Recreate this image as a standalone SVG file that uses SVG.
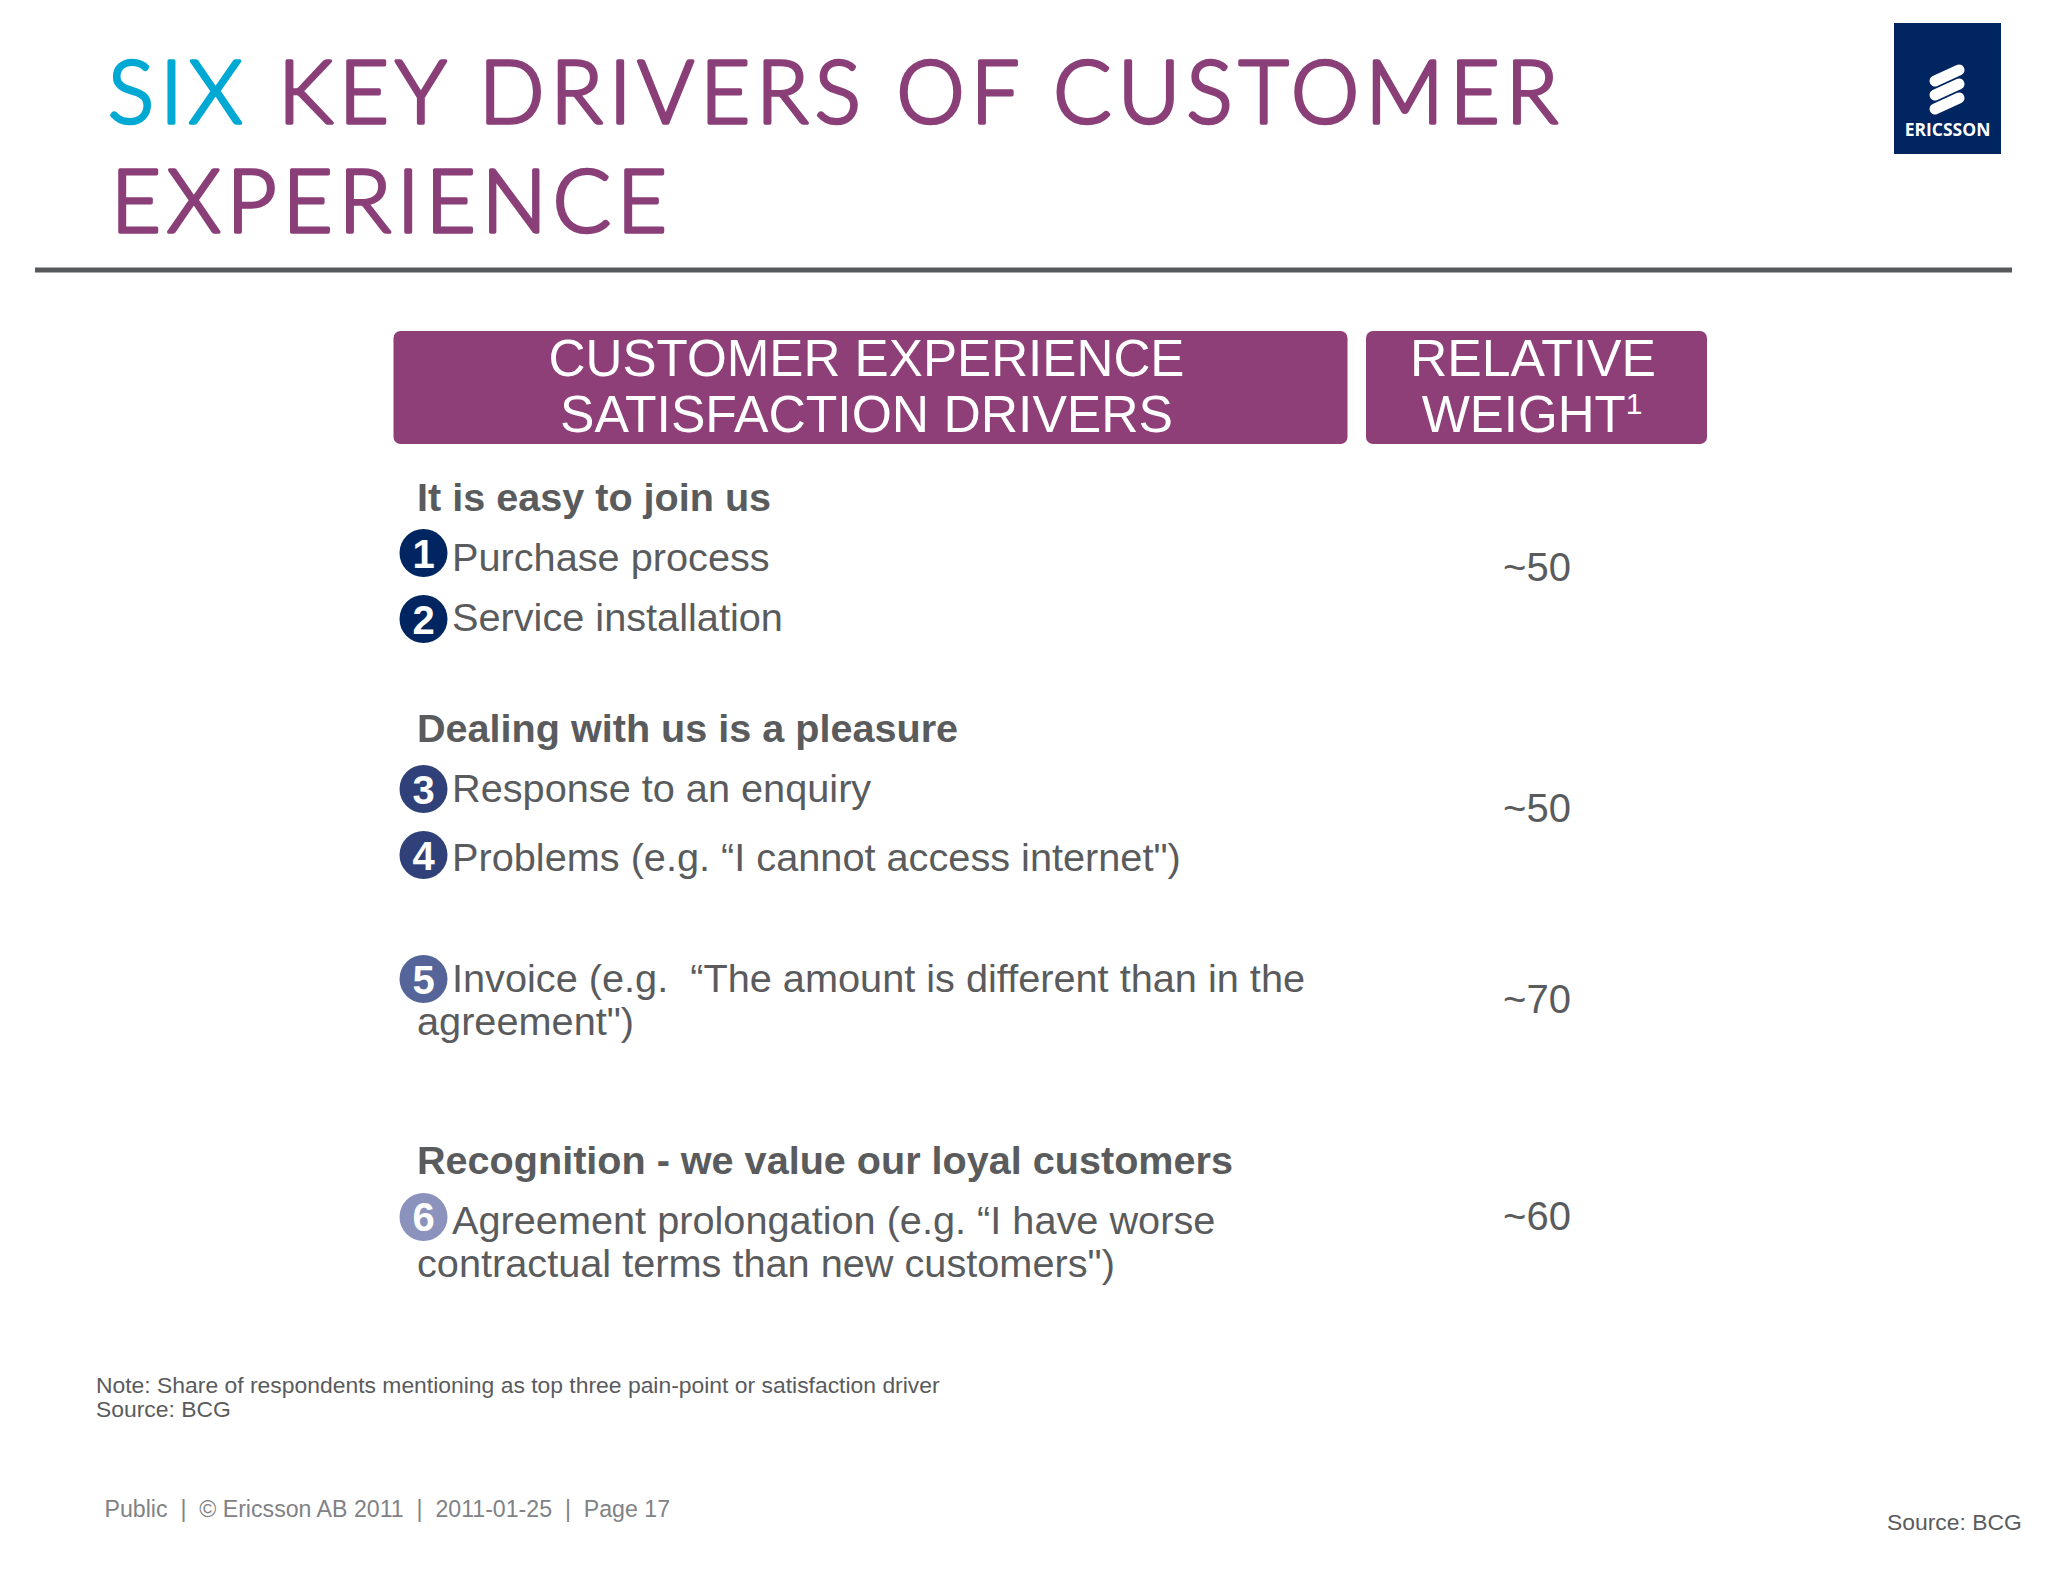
<svg xmlns="http://www.w3.org/2000/svg" width="2048" height="1582" viewBox="0 0 2048 1582">
<style>
text{font-family:"Liberation Sans",Arial,sans-serif;fill:#5a5b5d;white-space:pre}
.t{font-family:"Lato","Liberation Sans",sans-serif;font-weight:300;font-size:86px;fill:#8a3f78;stroke:#8a3f78;stroke-width:3.500px;stroke-linejoin:round}
.h{font-size:51px;fill:#fff;text-anchor:middle}
.b{font-size:39.600px;font-weight:700}
.r{font-size:39.700px}
.w{font-size:40px;text-anchor:middle}
.n{font-size:40px;font-weight:700;fill:#fff;text-anchor:middle}
.s{font-size:22.900px}
.f{font-size:23.150px;fill:#808285}
</style>
<rect width="2048" height="1582" fill="#fff"/>
<g id="title">
<text class="t" x="108" y="123" textLength="1450" lengthAdjust="spacing"><tspan style="fill:#00a9d4;stroke:#00a9d4">SIX</tspan> KEY DRIVERS OF CUSTOMER</text>
<text class="t" x="111" y="232" textLength="556" lengthAdjust="spacing">EXPERIENCE</text>
</g>
<g id="logo">
<rect x="1894" y="23" width="107" height="131" fill="#002561"/>
<g stroke="#fff" stroke-width="11" stroke-linecap="round">
<line x1="1935" y1="81" x2="1959" y2="70"/>
<line x1="1935" y1="95" x2="1959" y2="84"/>
<line x1="1935" y1="109" x2="1959" y2="98"/>
</g>
<text x="1947.500" y="136" font-size="17.500" font-weight="700" text-anchor="middle" style="fill:#fff;font-family:'Open Sans','Liberation Sans',sans-serif">ERICSSON</text>
</g>
<line id="rule" x1="35" y1="270" x2="2012" y2="270" stroke="#58595b" stroke-width="5"/>
<g id="header-drivers">
<rect x="393.500" y="331" width="954" height="113" rx="7" fill="#8e3f78"/>
<text class="h" x="866.500" y="376" textLength="636" lengthAdjust="spacingAndGlyphs">CUSTOMER EXPERIENCE</text>
<text class="h" x="866.500" y="432" textLength="613" lengthAdjust="spacingAndGlyphs">SATISFACTION DRIVERS</text>
</g>
<g id="header-weight">
<rect x="1366" y="331" width="341" height="113" rx="7" fill="#8e3f78"/>
<text class="h" x="1533" y="376" textLength="246" lengthAdjust="spacingAndGlyphs">RELATIVE</text>
<text class="h" x="1532" y="432">WEIGHT<tspan font-size="30" dy="-18">1</tspan></text>
</g>
<g id="group-1"><text class="b" x="417" y="510.500">It is easy to join us</text></g>
<g id="driver-1"><circle cx="423.500" cy="553" r="24" fill="#002561"/><text class="n" x="423.500" y="568">1</text><text class="r" x="452" y="571">Purchase process</text></g>
<g id="driver-2"><circle cx="423.500" cy="619" r="24" fill="#002561"/><text class="n" x="423.500" y="634">2</text><text class="r" x="452" y="631">Service installation</text></g>
<g id="weight-1"><text class="w" x="1537" y="581">~50</text></g>
<g id="group-2"><text class="b" x="417" y="742">Dealing with us is a pleasure</text></g>
<g id="driver-3"><circle cx="423.500" cy="789" r="24" fill="#2f4178"/><text class="n" x="423.500" y="804">3</text><text class="r" x="452" y="802">Response to an enquiry</text></g>
<g id="driver-4"><circle cx="423.500" cy="855" r="24" fill="#2f4178"/><text class="n" x="423.500" y="870">4</text><text class="r" x="452" y="871">Problems (e.g. “I cannot access internet")</text></g>
<g id="weight-2"><text class="w" x="1537" y="822">~50</text></g>
<g id="driver-5"><circle cx="423.500" cy="979" r="24" fill="#55659a"/><text class="n" x="423.500" y="994">5</text><text class="r" x="452" y="992">Invoice (e.g.  “The amount is different than in the</text><text class="r" x="417" y="1035">agreement")</text></g>
<g id="weight-3"><text class="w" x="1537" y="1013">~70</text></g>
<g id="group-3"><text class="b" x="417" y="1173.500">Recognition - we value our loyal customers</text></g>
<g id="driver-6"><circle cx="423.500" cy="1217" r="24" fill="#8b93bd"/><text class="n" x="423.500" y="1231">6</text><text class="r" x="452" y="1234">Agreement prolongation (e.g. “I have worse</text><text class="r" x="417" y="1277">contractual terms than new customers")</text></g>
<g id="weight-4"><text class="w" x="1537" y="1230">~60</text></g>
<g id="notes"><text class="s" x="96" y="1392.500">Note: Share of respondents mentioning as top three pain-point or satisfaction driver</text><text class="s" x="96" y="1417">Source: BCG</text></g>
<g id="footer"><text class="f" x="104.500" y="1517">Public  |  © Ericsson AB 2011  |  2011-01-25  |  Page 17</text><text class="s" x="1887" y="1530">Source: BCG</text></g>
<g id="connectors"/>
</svg>
